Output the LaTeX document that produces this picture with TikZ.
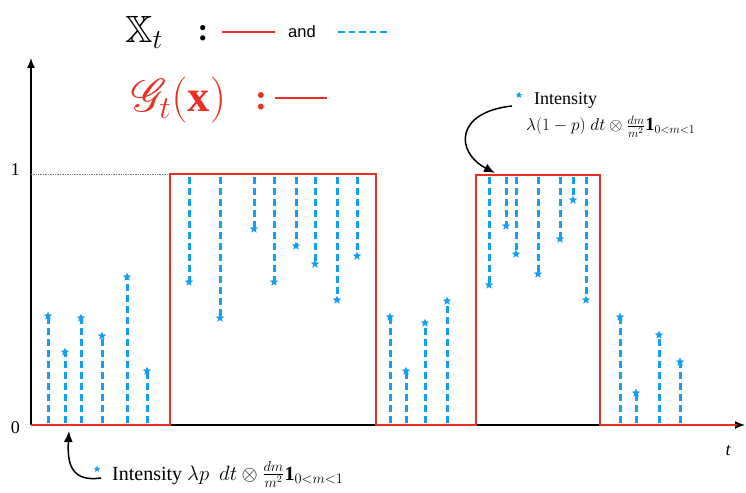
\documentclass[tikz,border=0pt]{standalone}
\usepackage{amssymb}
\usepackage{mathrsfs}
\usepackage{fontspec}
\setmainfont{Liberation Serif}
\newfontfamily\andfont{Liberation Sans}
\usetikzlibrary{shapes.geometric,arrows.meta}
\definecolor{redline}{RGB}{232,48,36}
\definecolor{bluedash}{RGB}{20,160,240}
\tikzset{
  redpath/.style={draw=redline, line width=2.2pt},
  bluedashed/.style={draw=bluedash, line width=3pt, dash pattern=on 7pt off 4pt},
  starmark/.style={star, star points=5, star point ratio=2.3, fill=bluedash, inner sep=0pt, minimum size=9pt},
  axisline/.style={draw=black, line width=1.4pt, -{Latex[length=10pt,width=8pt]}},
  curvearrow/.style={draw=black, line width=1.5pt, -{Latex[length=11pt,width=9pt]}},
  lbl/.style={inner sep=0pt, font=\fontsize{18}{20}\selectfont}
}
\begin{document}
\begin{tikzpicture}[x=1pt,y=-1pt]
\useasboundingbox (0,0) rectangle (746,492);
% axes
\coordinate (O) at (31,425);
\coordinate (ytop) at (31,58);
\coordinate (xend) at (745,425);
\draw[axisline] (O) -- (ytop);
\draw[axisline] (O) -- (xend);
\node[lbl, anchor=east] (zero) at (20,428) {0};
\node[lbl, anchor=east] (one) at (20,170) {1};
\node[lbl, anchor=base] (tlab) at (728,455) {\itshape t};
\coordinate (d1) at (31,174);
\coordinate (d2) at (170,174);
\draw[gray, densely dotted, line width=0.7pt] (d1) -- (d2);
% red process
\draw[redpath] (31,425) -- (170,425) -- (170,174) -- (376,174) -- (376,425) -- (476,425) -- (476,175) -- (600,175) -- (600,425) -- (737,425);
% blue dashed from ground up
\foreach \x/\y [count=\i] in {48/316,65/352,81/318,102/336,127/277,147/371,390/317,406/371,425/323,447/301,620/317,636/393,659/335,680/362}{
  \coordinate (gb\i) at (\x,423);
  \node[starmark] (sb\i) at (\x,\y) {};
  \draw[bluedashed] (gb\i) -- (sb\i.center);
}
% blue dashed from top down
\foreach \x/\y [count=\i] in {189/282,220/318,254/229,274/282,296/246,315/264,337/300,357/256,489/285,506/226,516/254,538/274,560/239,573/200,586/300}{
  \coordinate (gt\i) at (\x,177);
  \node[starmark] (st\i) at (\x,\y) {};
  \draw[bluedashed] (gt\i) -- (st\i.center);
}
% header line 1
\node[anchor=base west, inner sep=0pt, font=\fontsize{20}{22}\selectfont] (X) at (125,43) {\scalebox{1.9}{$\mathbb{X}_t$}};
\node[anchor=center, inner sep=0pt, font=\bfseries\fontsize{32}{34}\selectfont] (c1) at (203,33) {:};
\coordinate (r1a) at (222,32); \coordinate (r1b) at (275,32);
\draw[redline, line width=2pt] (r1a) -- (r1b);
\node[inner sep=0pt, font=\andfont\fontsize{16.5}{18}\selectfont] (and) at (302,32) {and};
\coordinate (b1a) at (338,32); \coordinate (b1b) at (390,32);
\draw[bluedash, line width=2.8pt, dash pattern=on 6.5pt off 4pt] (b1a) -- (b1b);
% header line 2
\node[anchor=base west, inner sep=0pt, text=redline, font=\fontsize{24}{26}\selectfont] (G) at (131,112) {\scalebox{1.85}{$\mathscr{G}_t(\mathbf{x})$}};
\node[anchor=center, inner sep=0pt, text=redline, font=\bfseries\fontsize{36}{38}\selectfont] (c2) at (261,101) {:};
\coordinate (r2a) at (275,98); \coordinate (r2b) at (327,98);
\draw[redline, line width=2pt] (r2a) -- (r2b);
% top annotation
\node[starmark, minimum size=7pt] (s1) at (519,95) {};
\node[anchor=base west, inner sep=0pt, font=\fontsize{18}{20}\selectfont] (int1) at (534,105) {Intensity};
\node[anchor=base west, inner sep=0pt, font=\fontsize{18.5}{20}\selectfont] (form1) at (526,131) {$\lambda(1-p)\ dt\otimes\frac{dm}{m^2}\mathbf{1}_{0<m<1}$};
\coordinate (a1s) at (512,106);
\coordinate (a1e) at (495,173);
\draw[curvearrow] (a1s) .. controls (455,112) and (455,152) .. (a1e);
% bottom annotation
\node[starmark, minimum size=7pt] (s2) at (97,469) {};
\node[anchor=base west, inner sep=0pt, font=\fontsize{20}{22}\selectfont] (int2) at (112,480) {Intensity $\lambda p\ \ dt\otimes\frac{dm}{m^2}\mathbf{1}_{0<m<1}$};
\coordinate (a2s) at (101,478);
\coordinate (a2e) at (69,431);
\draw[curvearrow] (a2s) .. controls (72,482) and (67,465) .. (a2e);
\end{tikzpicture}
\end{document}
